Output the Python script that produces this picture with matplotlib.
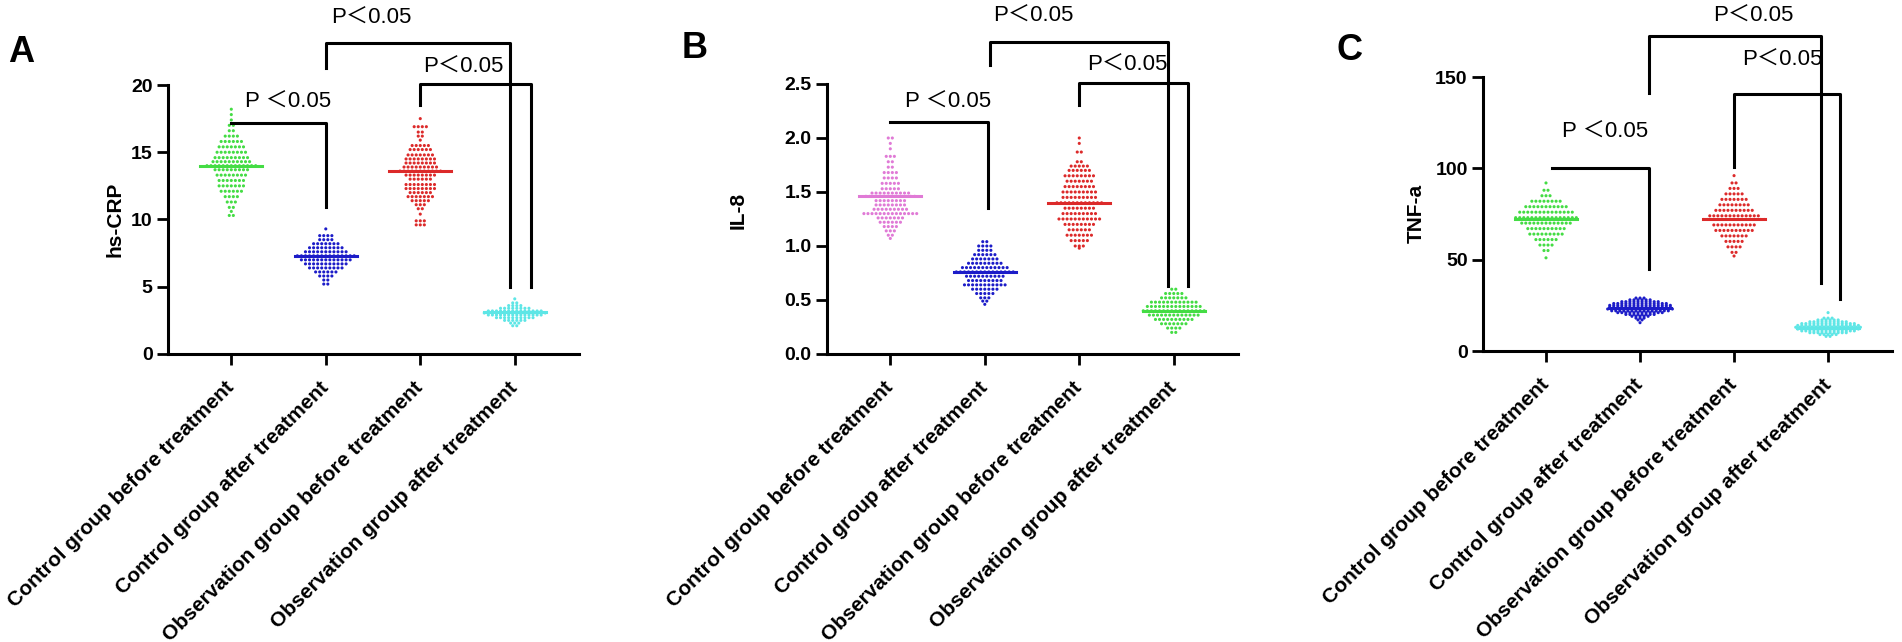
import numpy as np
import matplotlib
matplotlib.use("Agg")
import matplotlib.pyplot as plt

W, H = 1902, 642

groups = ["Control group before treatment", "Control group after treatment",
          "Observation group before treatment", "Observation group after treatment"]

# each group: rows of the swarm as (value, number of dots in that row)
# panel A, hs-CRP
crp_ctrl_before = [(18.2, 1), (17.8, 1), (17.4, 1), (17.0, 2), (16.6, 2), (16.2, 4),
                   (15.8, 6), (15.4, 7), (15.0, 8), (14.6, 9), (14.3, 10), (14.0, 13),
                   (13.7, 9), (13.3, 8), (12.9, 7), (12.5, 7), (12.1, 6), (11.7, 4),
                   (11.3, 3), (10.9, 2), (10.6, 1), (10.3, 2)]
crp_ctrl_after = [(9.3, 1), (8.8, 4), (8.5, 4), (8.2, 7), (7.9, 9), (7.6, 11), (7.3, 15),
                  (7.0, 13), (6.7, 11), (6.4, 9), (6.1, 6), (5.8, 4), (5.5, 2), (5.2, 2)]
crp_obs_before = [(17.5, 1), (16.9, 4), (16.5, 2), (16.2, 2), (15.9, 1), (15.5, 5),
                  (15.2, 6), (14.8, 7), (14.5, 8), (14.2, 8), (13.9, 9), (13.6, 11),
                  (13.3, 8), (13.0, 6), (12.6, 8), (12.3, 8), (12.0, 6), (11.7, 7),
                  (11.4, 5), (11.1, 3), (10.8, 2), (10.4, 1), (9.9, 3), (9.6, 3)]
crp_obs_after = [(4.1, 1), (3.8, 2), (3.6, 4), (3.4, 8), (3.2, 14), (3.05, 16),
                 (2.9, 14), (2.7, 10), (2.5, 6), (2.3, 3), (2.1, 2)]
crp_means = [14.0, 7.3, 13.6, 3.1]

# panel B, IL-8
il8_ctrl_before = [(2.0, 2), (1.95, 1), (1.90, 1), (1.83, 3), (1.78, 2), (1.73, 2),
                   (1.68, 4), (1.63, 4), (1.58, 5), (1.53, 5), (1.49, 10), (1.46, 13),
                   (1.42, 8), (1.38, 8), (1.34, 9), (1.30, 14), (1.26, 7), (1.22, 6),
                   (1.18, 4), (1.14, 3), (1.10, 2), (1.07, 1)]
il8_ctrl_after = [(1.04, 2), (1.0, 4), (0.96, 4), (0.92, 6), (0.88, 7), (0.84, 9),
                  (0.80, 12), (0.76, 15), (0.72, 10), (0.68, 9), (0.64, 11), (0.60, 7),
                  (0.56, 5), (0.52, 3), (0.49, 2), (0.46, 1)]
il8_obs_before = [(2.0, 1), (1.95, 1), (1.87, 2), (1.78, 2), (1.74, 5), (1.70, 6),
                  (1.65, 8), (1.60, 7), (1.55, 8), (1.50, 9), (1.45, 9), (1.40, 12),
                  (1.35, 8), (1.30, 9), (1.25, 11), (1.20, 8), (1.15, 6), (1.10, 7),
                  (1.05, 5), (1.00, 3), (0.98, 1)]
il8_obs_after = [(0.60, 2), (0.56, 5), (0.52, 7), (0.48, 12), (0.44, 14), (0.40, 16),
                 (0.36, 13), (0.32, 10), (0.28, 7), (0.24, 4), (0.20, 2)]
il8_means = [1.46, 0.76, 1.40, 0.40]

# panel C, TNF-a
tnf_ctrl_before = [(92, 1), (88, 2), (85, 3), (82, 8), (79, 11), (76, 14), (73, 16),
                   (70, 13), (67, 10), (64, 9), (61, 6), (58, 4), (55, 2), (51, 1)]
tnf_ctrl_after = [(29, 3), (28, 6), (27, 10), (26, 14), (25, 16), (24, 16), (23, 17),
                  (22, 15), (21, 12), (20, 8), (19, 5), (18, 3), (17, 2), (15.5, 1)]
tnf_obs_before = [(96, 1), (92, 2), (89, 3), (86, 5), (83, 7), (80, 8), (77, 10),
                  (74, 13), (72, 16), (69, 11), (66, 10), (63, 7), (60, 5), (57, 4),
                  (54, 2), (52, 1)]
tnf_obs_after = [(21, 1), (18, 3), (17, 6), (16, 10), (15, 14), (14, 16), (13, 17),
                 (12, 16), (11, 14), (10, 10), (9, 5), (8, 2)]
tnf_means = [72.5, 23.5, 72.0, 12.6]

green = '#44dc44'
blue = '#1c1cc8'
red = '#dc2a2a'
cyan = '#5ee6e6'
pink = '#e07ad6'

panels = [
    dict(letter='A', ylabel='hs-CRP', box=(168, 579, 85, 354), ylim=20,
         yticks=[0, 5, 10, 15, 20], fmt='{:.0f}',
         data=[crp_ctrl_before, crp_ctrl_after, crp_obs_before, crp_obs_after],
         means=crp_means, colors=[green, blue, red, cyan],
         letter_xy=(21, 52), label_xy=(115, 219),
         brackets=[(0, 1, 17.2, 17.2, 10.9, 'P ＜0.05', 0.6, 18.7),
                   (1, 2.95, 23.1, 21.3, 5.0, 'P＜0.05', 1.48, 25.0),
                   (2, 3.17, 20.1, 18.5, 5.0, 'P＜0.05', 2.46, 21.3)]),
    dict(letter='B', ylabel='IL-8', box=(827, 1238, 84, 354), ylim=2.5,
         yticks=[0, 0.5, 1.0, 1.5, 2.0, 2.5], fmt='{:.1f}',
         data=[il8_ctrl_before, il8_ctrl_after, il8_obs_before, il8_obs_after],
         means=il8_means, colors=[pink, blue, red, green],
         letter_xy=(695, 49), label_xy=(738, 210),
         brackets=[(0, 1.03, 2.15, 2.15, 1.35, 'P ＜0.05', 0.61, 2.33),
                   (1.05, 2.94, 2.89, 2.68, 0.63, 'P＜0.05', 1.51, 3.13),
                   (2, 3.15, 2.51, 2.31, 0.63, 'P＜0.05', 2.51, 2.67)]),
    dict(letter='C', ylabel='TNF-a', box=(1483, 1892, 77, 351), ylim=150,
         yticks=[0, 50, 100, 150], fmt='{:.0f}',
         data=[tnf_ctrl_before, tnf_ctrl_after, tnf_obs_before, tnf_obs_after],
         means=tnf_means, colors=[green, blue, red, cyan],
         letter_xy=(1350, 50), label_xy=(1416, 213),
         brackets=[(0.06, 1.1, 100, 100, 45, 'P ＜0.05', 0.63, 120),
                   (1.1, 2.93, 172.5, 141, 37, 'P＜0.05', 2.21, 183),
                   (2, 3.13, 140.7, 100.5, 28.6, 'P＜0.05', 2.51, 159)]),
]

plt.rcParams['font.family'] = ['Liberation Sans', 'Noto Sans CJK SC', 'DejaVu Sans']
fig = plt.figure(figsize=(W / 100, H / 100), dpi=100)


def swarm(ax, x0, rows, color, dx=0.043):
    xs, ys = [], []
    for val, n in rows:
        offs = (np.arange(n) - (n - 1) / 2) * dx
        xs.extend(x0 + offs)
        ys.extend([val] * n)
    ax.scatter(xs, ys, s=5, color=color, edgecolors='none', zorder=3, clip_on=False)


for p in panels:
    l, r, t, b = p['box']
    ax = fig.add_axes([l / W, 1 - b / H, (r - l) / W, (b - t) / H])
    for i, (rows, m, c) in enumerate(zip(p['data'], p['means'], p['colors'])):
        swarm(ax, i, rows, c)
        ax.plot([i - 0.33, i + 0.33], [m, m], color=c, lw=2.2, zorder=4)

    for x1, x2, yt, yl, yr, txt, tx, ty in p['brackets']:
        ax.plot([x1, x1, x2, x2], [yl, yt, yt, yr], color='black', lw=2.2,
                clip_on=False, zorder=5)
        ax.text(tx, ty, txt, ha='center', va='center', fontsize=16, clip_on=False)

    ax.set_xlim(-0.67, 3.68)
    ax.set_ylim(0, p['ylim'])
    ax.set_xticks(range(4))
    ax.set_xticklabels(groups, rotation=45, ha='right', va='center',
                       rotation_mode='anchor', fontsize=15, fontweight='bold')
    ax.set_yticks(p['yticks'])
    ax.set_yticklabels([p['fmt'].format(v) for v in p['yticks']],
                       fontsize=14, fontweight='bold')
    for s in ['top', 'right']:
        ax.spines[s].set_visible(False)
    for s in ['left', 'bottom']:
        ax.spines[s].set_linewidth(2.2)
    ax.tick_params(axis='both', width=2.0, length=8)
    ax.tick_params(axis='x', pad=14)
    ax.tick_params(axis='y', pad=3)

    lx, ly = p['label_xy']
    fig.text(lx / W, 1 - ly / H, p['ylabel'], rotation=90, ha='center', va='center',
             fontsize=15, fontweight='bold')
    cx, cy = p['letter_xy']
    fig.text(cx / W, 1 - cy / H, p['letter'], ha='center', va='center',
             fontsize=26, fontweight='bold')

fig.savefig('out.png', dpi=100)
